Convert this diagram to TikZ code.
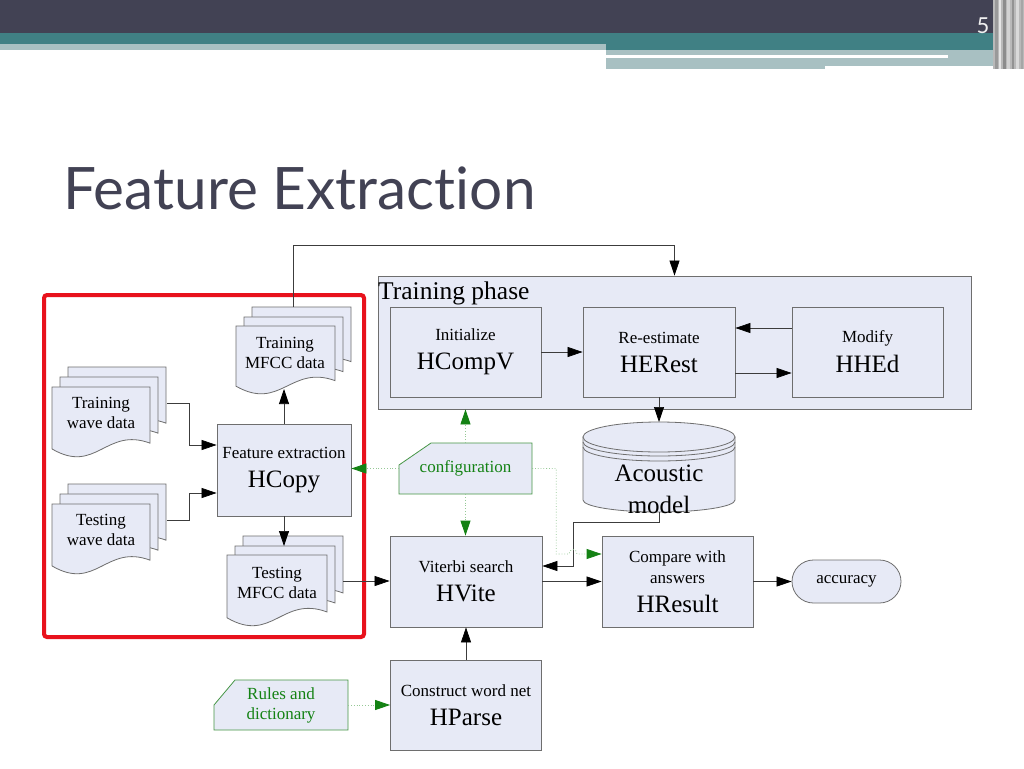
\documentclass[tikz,border=0pt]{standalone}
\usepackage{fontspec}
\setmainfont{Liberation Serif}
\newfontfamily\titlefont[Ligatures={NoCommon,NoRare,NoContextual}]{Lato}
\usetikzlibrary{arrows.meta,calc}
\definecolor{darkbar}{RGB}{66,66,84}
\definecolor{tealbar}{RGB}{64,128,132}
\definecolor{lightbar}{RGB}{168,192,194}
\definecolor{titlecol}{RGB}{66,66,84}
\definecolor{boxfill}{RGB}{231,234,246}
\definecolor{bordergray}{RGB}{110,110,110}
\definecolor{linegray}{RGB}{60,60,60}
\definecolor{redframe}{RGB}{232,18,28}
\definecolor{gtext}{RGB}{20,130,20}
\definecolor{gline}{RGB}{150,200,150}
\definecolor{gborder}{RGB}{70,150,70}
\newcommand\bigf{\fontsize{25}{29}\selectfont}
\newcommand\mydoc[4]{%
  \path[docsty] (#1,#2) -- ({#1+#3},#2) -- ({#1+#3},{#2+0.78*#4})
    .. controls ({#1+0.55*#3},{#2+0.55*#4}) and ({#1+0.45*#3},{#2+1.22*#4}) ..
    (#1,{#2+0.86*#4}) -- cycle;}
\begin{document}
\begin{tikzpicture}[x=1pt,y=-1pt,
  docsty/.style={draw=bordergray,fill=boxfill,line width=0.8pt},
  box/.style={draw=bordergray,fill=boxfill,line width=0.8pt,inner sep=0pt,
    align=center,font=\fontsize{17}{21}\selectfont},
  txt/.style={inner sep=0pt,align=center,font=\fontsize{17}{20}\selectfont},
  gtxt/.style={txt,text=gtext},
  cardsty/.style={draw=gborder,fill=boxfill,line width=0.8pt},
  cyl/.style={draw=bordergray,fill=boxfill,line width=0.8pt},
  arr/.style={draw=linegray,line width=0.7pt,-{Triangle[length=15pt,width=10pt,color=black]}},
  garr/.style={draw=gline,line width=0.8pt,dotted,-{Triangle[length=15pt,width=10pt,color=gtext]}}
]
\useasboundingbox (0,0) rectangle (1024,768);
\fill[white] (0,0) rectangle (1024,768);
% header
\fill[darkbar] (0,0) rectangle (1024,33);
\fill[tealbar] (0,33) rectangle (1024,44);
\fill[tealbar] (606,44) rectangle (1024,50);
\fill[lightbar] (0,44) rectangle (606,50);
\fill[lightbar] (606,50) rectangle (1024,66);
\fill[lightbar] (606,66) rectangle (825,69);
\fill[white] (606,55) rectangle (948,58);
\fill[gray!55] (993,0) rectangle (1024,69);
\fill[gray!80] (995,0) rectangle (998,69);
\fill[white!80!gray] (999,0) rectangle (1001,69);
\fill[gray!90] (1003,0) rectangle (1006,69);
\fill[gray!35] (1007,0) rectangle (1010,69);
\fill[gray!85] (1012,0) rectangle (1014,69);
\fill[gray!30] (1016,0) rectangle (1019,69);
\fill[gray!70] (1021,0) rectangle (1023,69);
\node[text=white!88!gray,font=\titlefont\fontsize{22}{22}\selectfont,inner sep=0pt] (pnum) at (983,26) {5};
% title
\node[anchor=base west,inner sep=0pt,text=titlecol,font=\titlefont\fontsize{58.5}{62}\selectfont] (title) at (63,209) {Feature Extraction};

% training phase group
\node[box,minimum width=593,minimum height=133] (tp) at (674.5,342.5) {};
\node[anchor=base west,inner sep=0pt,font=\fontsize{25.5}{26}\selectfont] (tplabel) at (378,299) {Training phase};
\node[box,minimum width=151,minimum height=90] (hcompv) at (465.5,352) {Initialize\\[8pt]\bigf HCompV};
\node[box,minimum width=152,minimum height=90] (herest) at (659,352) {Re-estimate\\[8pt]\bigf HERest};
\node[box,minimum width=151,minimum height=90] (hhed) at (867.5,352) {Modify\\[8pt]\bigf HHEd};

% documents
\mydoc{68}{367}{98}{72}\mydoc{60}{377}{98}{72}\mydoc{52}{387}{98}{72}
\node[txt] (twave) at (101,413) {Training\\wave data};
\mydoc{68}{484}{98}{72}\mydoc{60}{494}{98}{72}\mydoc{52}{504}{98}{72}
\node[txt] (tswave) at (101,530) {Testing\\wave data};
\mydoc{252}{307}{99}{70}\mydoc{244}{317}{99}{70}\mydoc{236}{326}{99}{70}
\node[txt] (tmfcc) at (285,353) {Training\\MFCC data};
\mydoc{243}{536}{100}{73}\mydoc{235}{546}{100}{73}\mydoc{227}{555}{100}{73}
\node[txt] (tsmfcc) at (277,583) {Testing\\MFCC data};

\coordinate (twout) at (167,403);
\coordinate (tsout) at (167,520);
\coordinate (tmfccbot) at (285,389);
\coordinate (tmfcctop) at (293,307);
\coordinate (tsmfcctop) at (285,546);
\coordinate (tsmfccout) at (343,581);

\node[box,minimum width=134,minimum height=92] (hcopy) at (284,470) {Feature extraction\\[8pt]\bigf HCopy};

% acoustic model
\path[cyl] (583,437) -- (583,500) .. controls (583,506.6) and (617,512) .. (659,512)
  .. controls (701,512) and (735,506.6) .. (735,500) -- (735,437) -- cycle;
\path[cyl] (659,437) ellipse [x radius=76, y radius=15];
\draw[bordergray,line width=0.8pt] (583,442) .. controls (583,449.7) and (617,456) .. (659,456)
  .. controls (701,456) and (735,449.7) .. (735,442);
\draw[bordergray,line width=0.8pt] (583,447) .. controls (583,454.7) and (617,461) .. (659,461)
  .. controls (701,461) and (735,454.7) .. (735,447);
\node[txt,font=\bigf] (am) at (659,489) {Acoustic\\[3pt]model};
\coordinate (amtop) at (659,422);
\coordinate (ambot) at (659,512);
\coordinate (amturn) at (573,566);

% lower boxes
\node[box,minimum width=152,minimum height=91] (hvite) at (466,581.5) {Viterbi search\\[8pt]\bigf HVite};
\node[box,minimum width=151,minimum height=91] (hresult) at (677.5,581.5) {Compare with\\answers\\[8pt]\bigf HResult};
\node[box,rounded corners=21.5pt,minimum width=109,minimum height=43] (acc) at (846.5,581.5) {accuracy};
\node[box,minimum width=151,minimum height=90] (hparse) at (466,705) {Construct word net\\[8pt]\bigf HParse};

% cards
\path[cardsty] (399,465) -- (431,443) -- (532,443) -- (532,494) -- (399,494) -- cycle;
\node[gtxt,minimum width=133,minimum height=51] (config) at (465.5,468.5) {configuration};
\path[cardsty] (214,705) -- (235,680) -- (348,680) -- (348,730) -- (214,730) -- cycle;
\node[gtxt,minimum width=134,minimum height=50] (rules) at (281,705) {Rules and\\dictionary};

% red frame
\draw[redframe,line width=4pt,rounded corners=3pt] (44,295) rectangle (364,637);

% black connectors
\draw[arr] (twout) -- ++(22,0) |- ([yshift=25pt]hcopy.west);
\draw[arr] (tsout) -- ++(22,0) |- ([yshift=-23pt]hcopy.west);
\draw[arr] (hcopy.north) -- (hcopy.north |- tmfccbot);
\draw[arr] (hcopy.south) -- (hcopy.south |- tsmfcctop);
\draw[arr] (tmfcctop) -- ++(0,-62) -| (tp.north);
\draw[arr] (hcompv.east) -- (herest.west);
\draw[arr] ([yshift=24pt]hhed.west) -- ([yshift=24pt]herest.east);
\draw[arr] ([yshift=-21pt]herest.east) -- ([yshift=-21pt]hhed.west);
\draw[arr] (herest.south) -- (amtop);
\draw[arr] (ambot) -- ++(0,10) -| (amturn) -- (amturn -| hvite.east);
\draw[arr] (tsmfccout) -- (tsmfccout -| hvite.west);
\draw[arr] (hvite.east) -- (hresult.west);
\draw[arr] (hresult.east) -- (acc.west);
\draw[arr] (hparse.north) -- (hvite.south);

% green connectors
\coordinate (jmp) at (573,554);
\draw[garr] (config.north) -- (config.north |- tp.south);
\draw[garr] (config.south) -- (config.south |- hvite.north);
\draw[garr] (config.west) -- (config.west -| hcopy.east);
\draw[garr] (config.east) -- ++(24,0) |- ([xshift=-4pt]jmp)
  .. controls (569,548) and (577,548) .. ([xshift=4pt]jmp) -- (jmp -| hresult.west);
\draw[garr] (rules.east) -- (hparse.west);
\end{tikzpicture}
\end{document}
